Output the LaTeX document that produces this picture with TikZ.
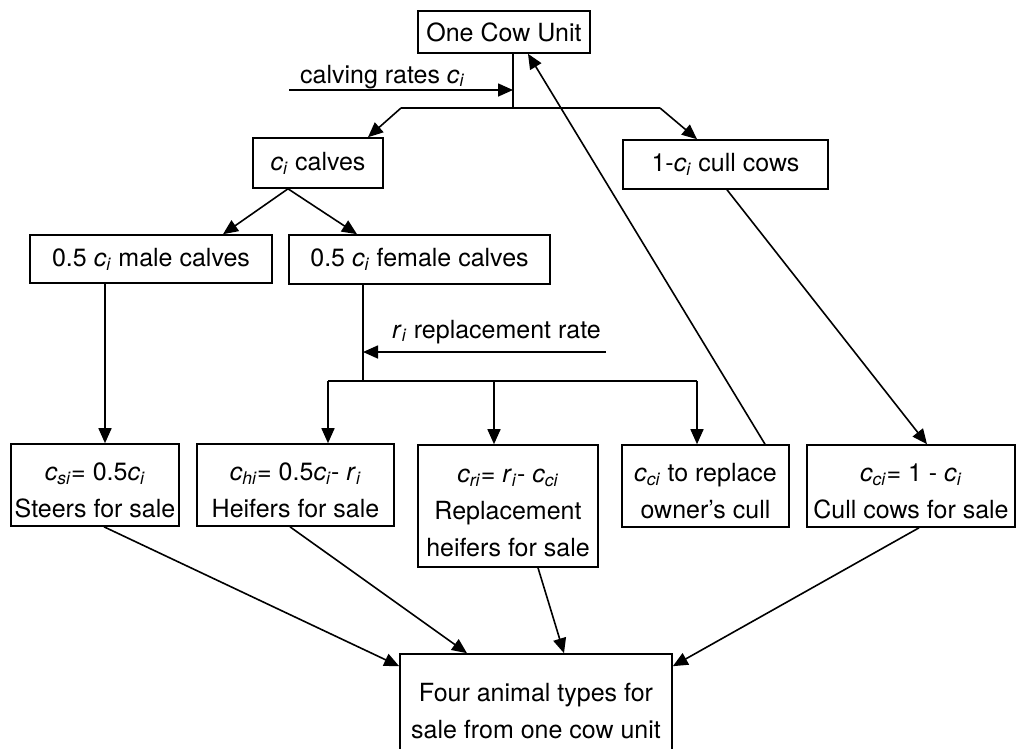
\documentclass[tikz,border=0pt]{standalone}
\usepackage{fontspec}
\setmainfont{TeX Gyre Heros}
\usetikzlibrary{
    arrows.meta,
    calc,
    positioning
}
\tikzset{cowbox/.style={draw=black, line width=1.6pt, inner sep=0pt, align=center, font=\fontsize{25}{37}\selectfont}}
\tikzset{flow/.style={line width=1.6pt, -{Triangle[length=15pt, width=13pt]}}}
\tikzset{link/.style={line width=1.6pt}}
\tikzset{lbl/.style={inner sep=0pt, anchor=base west, font=\fontsize{25}{37}\selectfont}}
\newcommand{\vsub}[2]{\textit{#1}\textsubscript{\textit{#2}}}
\newcommand{\lift}{\rule{0pt}{28pt}}

\begin{document}
\begin{tikzpicture}[x=1pt, y=-1pt]
                        \clip (0, 0) rectangle (1020, 748);
                        \node[cowbox, minimum width=172pt, minimum height=42pt] (cow) at (504, 32) {One Cow Unit};
                        \node[cowbox, minimum width=130pt, minimum height=50pt] (calves) at (318, 163) {\vsub{c}{i} calves};
                        \node[cowbox, minimum width=205pt, minimum height=49pt] (cull) at (725.5, 164.5) {1-\vsub{c}{i} cull cows};
                        \node[cowbox, minimum width=242pt, minimum height=48pt] (male) at (151, 259) {0.5 \vsub{c}{i} male calves};
                        \node[cowbox, minimum width=261pt, minimum height=49pt] (female) at (419.5, 259.5) {0.5 \vsub{c}{i} female calves};
                        \node[cowbox, minimum width=168pt, minimum height=82pt] (steers) at (95, 485) {\lift\vsub{c}{si}= 0.5\vsub{c}{i}\\Steers for sale};
                        \node[cowbox, minimum width=197pt, minimum height=82pt] (heifers) at (295.5, 485) {\lift\vsub{c}{hi}= 0.5\vsub{c}{i}- \vsub{r}{i}\\Heifers for sale};
                        \node[cowbox, minimum width=180pt, minimum height=122pt] (repl) at (508, 506) {\lift\vsub{c}{ri}= \vsub{r}{i}- \vsub{c}{ci}\\Replacement\\heifers for sale};
                        \node[cowbox, minimum width=167pt, minimum height=82pt] (replace) at (705.5, 486) {\lift\vsub{c}{ci} to replace\\owner's cull};
                        \node[cowbox, minimum width=208pt, minimum height=82pt] (cullsale) at (911, 486) {\lift\vsub{c}{ci}= 1 - \vsub{c}{i}\\Cull cows for sale};
                        \node[cowbox, minimum width=272pt, minimum height=104pt] (four) at (536, 706) {\lift Four animal types for\\sale from one cow unit};
                        \node[lbl] (calving) at (300, 83) {calving rates \vsub{c}{i}};
                        \node[lbl] (rrate) at (392, 338) {\vsub{r}{i} replacement rate};
                        \coordinate (split) at (513, 108);
                        \coordinate (sl) at (401, 108);
                        \coordinate (sr) at (660, 108);
                        \coordinate (cin) at (289, 90);
                        \coordinate (rin) at (606, 352);
                        \coordinate (fsplit) at (363, 381);
                        \coordinate (fl) at (328, 381);
                        \coordinate (fm) at (494, 381);
                        \coordinate (fr) at (697, 381);
                        \draw[link]
                        (cow.south -| split) -- (split)
                        (sl) -- (sr)
                        ($(female.south)+(-56.5, 0)$) -- (fsplit)
                        (fl) -- (fr);
                        \draw[flow] (sl) -- ($(calves.north)+(50, 0)$);
                        \draw[flow] (sr) -- ($(cull.north)+(-28.5, 0)$);
                        \draw[flow] (cin) -- (split |- cin);
                        \draw[flow] ($(calves.south)+(-30, 0)$) -- ($(male.north)+(72, 0)$);
                        \draw[flow] ($(calves.south)+(-30, 0)$) -- ($(female.north)+(-62.5, 0)$);
                        \draw[flow] ($(male.south)+(-46, 0)$) coordinate (mdown) -- (mdown |- steers.north);
                        \draw[flow] (rin) -- (fsplit |- rin);
                        \draw[flow] (fl) -- (fl |- heifers.north);
                        \draw[flow] (fm) -- (fm |- repl.north);
                        \draw[flow] (fr) -- (fr |- replace.north);
                        \draw[flow] ($(replace.north)+(59.5, 0)$) -- ($(cow.south)+(24, 0)$);
                        \draw[flow] ($(cull.south)+(1.5, 0)$) -- ($(cullsale.north)+(16, 0)$);
                        \draw[flow] ($(steers.south)+(9, 0)$) -- ($(four.north west)+(0, 13)$);
                        \draw[flow] ($(heifers.south)+(-5.5, 0)$) -- ($(four.north)+(-69, 0)$);
                        \draw[flow] ($(repl.south)+(30, 0)$) -- ($(four.north)+(28, 0)$);
                        \draw[flow] ($(cullsale.south)+(8, 0)$) -- ($(four.north east)+(0, 13)$);
                    \end{tikzpicture}
\end{document}
